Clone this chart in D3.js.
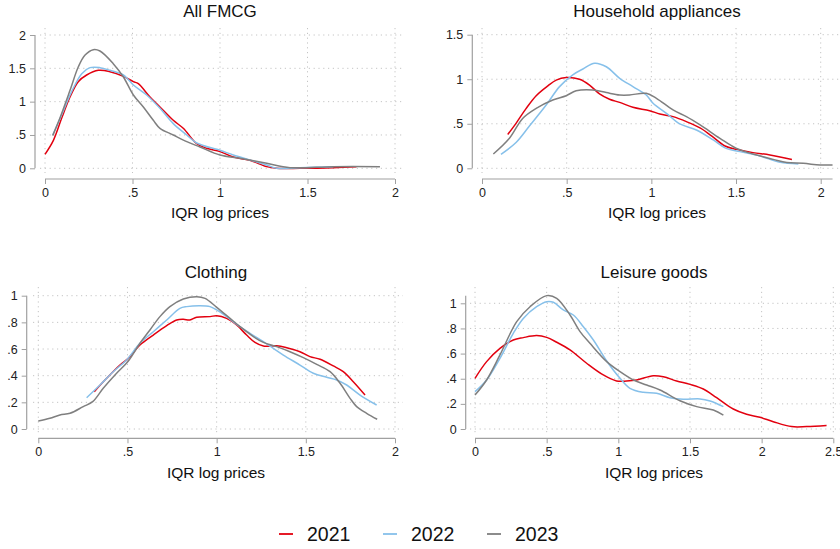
<!DOCTYPE html>
<html>
<head>
<meta charset="utf-8">
<script src="https://cdn.jsdelivr.net/npm/d3@7"></script>
<style>
  body { margin: 0; background: #fff; }
  svg { display: block; font-family: "Liberation Sans", Arial, sans-serif; }
  .tick text { font-size: 12.5px; fill: #222; }
  .tick line { stroke: #a0a0a0; }
  .axisline { stroke: #a0a0a0; stroke-width: 1.2; }
  .grid { stroke: #c4c4c4; stroke-width: 1; stroke-dasharray: 1.2,3.6; }
  .title { font-size: 17px; fill: #111; }
  .xlabel { font-size: 15.5px; fill: #111; }
  .legend { font-size: 19.5px; fill: #111; }
</style>
</head>
<body>
<svg id="chart" width="840" height="549"></svg>
<script>
// years and colours
var years = ["2021", "2022", "2023"];
var colors = ["#e2000f", "#86c0ea", "#7f7f7f"];

// tick labels
var xTicks2 = [0, 0.5, 1, 1.5, 2];
var xTicks25 = [0, 0.5, 1, 1.5, 2, 2.5];
var yTicksFmcg = [0, 0.5, 1, 1.5, 2];
var yTicksAppl = [0, 0.5, 1, 1.5];
var yTicksTenth = [0, 0.2, 0.4, 0.6, 0.8, 1];

// All FMCG
var fmcg2021 = [[0,.21],[.048,.42],[.095,.75],[.143,1.07],[.19,1.30],[.238,1.40],[.305,1.47],[.371,1.45],[.448,1.38],[.505,1.30],[.533,1.27],[.6,1.07],[.657,.92],[.733,.72],[.79,.60],[.867,.37],[.924,.30],[1.0,.25],[1.076,.17],[1.17,.12],[1.267,.025],[1.324,0],[1.457,0],[1.648,.01],[1.78,.025]];
var fmcg2022 = [[.044,.50],[.095,.80],[.152,1.15],[.21,1.42],[.257,1.51],[.314,1.51],[.371,1.47],[.448,1.40],[.505,1.25],[.581,1.10],[.657,.90],[.733,.67],[.81,.50],[.867,.38],[1.0,.27],[1.076,.20],[1.17,.125],[1.267,.05],[1.324,0],[1.457,.01],[1.648,.025]];
var fmcg2023 = [[.044,.49],[.086,.76],[.143,1.17],[.19,1.52],[.229,1.70],[.276,1.78],[.314,1.76],[.39,1.57],[.448,1.37],[.505,1.10],[.562,.92],[.619,.72],[.657,.60],[.733,.50],[.81,.40],[.886,.32],[1.0,.20],[1.114,.15],[1.267,.075],[1.4,.01],[1.648,.025],[1.914,.025]];

// Household appliances
var appl2021 = [[.152,.38],[.201,.505],[.26,.67],[.32,.815],[.389,.925],[.438,.99],[.497,1.02],[.576,1.0],[.635,.935],[.694,.835],[.753,.775],[.813,.74],[.891,.685],[.99,.647],[1.05,.61],[1.128,.58],[1.207,.524],[1.29,.45],[1.365,.35],[1.435,.25],[1.503,.213],[1.6,.176],[1.7,.15],[1.83,.10]];
var appl2022 = [[.112,.157],[.201,.29],[.28,.475],[.379,.71],[.458,.917],[.536,1.05],[.596,1.115],[.665,1.18],[.734,1.14],[.813,1.01],[.891,.917],[.97,.823],[1.01,.73],[1.089,.617],[1.168,.498],[1.266,.43],[1.365,.318],[1.435,.23],[1.523,.187],[1.641,.138],[1.76,.067],[1.868,.049]];
var appl2023 = [[.067,.16],[.162,.337],[.24,.56],[.32,.673],[.418,.767],[.497,.815],[.556,.87],[.655,.879],[.734,.85],[.813,.823],[.871,.823],[.97,.842],[1.03,.786],[1.128,.655],[1.207,.58],[1.288,.487],[1.405,.337],[1.5,.225],[1.6,.16],[1.72,.10],[1.8,.064],[1.897,.056],[1.996,.037],[2.07,.037]];

// Clothing
var cloth2021 = [[.314,.28],[.383,.38],[.458,.48],[.505,.53],[.57,.63],[.645,.705],[.72,.775],[.776,.818],[.813,.823],[.85,.818],[.888,.838],[.963,.843],[1.0,.85],[1.056,.83],[1.112,.78],[1.168,.705],[1.215,.65],[1.262,.623],[1.336,.625],[1.393,.61],[1.467,.58],[1.523,.543],[1.58,.523],[1.654,.473],[1.71,.43],[1.766,.355],[1.832,.255]];
var cloth2022 = [[.271,.235],[.346,.33],[.42,.43],[.495,.518],[.57,.643],[.645,.73],[.72,.818],[.794,.905],[.832,.918],[.907,.925],[.963,.918],[1.0,.893],[1.056,.843],[1.112,.785],[1.187,.718],[1.262,.655],[1.318,.605],[1.374,.555],[1.467,.48],[1.542,.418],[1.617,.388],[1.673,.368],[1.729,.33],[1.804,.255],[1.897,.18]];
var cloth2023 = [[0,.06],[.065,.08],[.121,.105],[.178,.118],[.252,.168],[.305,.205],[.364,.305],[.439,.418],[.505,.51],[.57,.643],[.626,.743],[.682,.843],[.738,.918],[.813,.975],[.888,.993],[.935,.98],[1.0,.913],[1.075,.83],[1.131,.768],[1.206,.693],[1.262,.65],[1.336,.618],[1.411,.58],[1.486,.535],[1.561,.485],[1.636,.43],[1.692,.343],[1.748,.23],[1.785,.168],[1.841,.118],[1.9,.073]];

// Leisure goods
var leis2021 = [[0,.403],[.081,.536],[.174,.642],[.267,.708],[.337,.727],[.43,.743],[.5,.729],[.57,.69],[.663,.629],[.779,.523],[.895,.43],[.988,.382],[1.058,.382],[1.128,.39],[1.244,.424],[1.314,.416],[1.407,.382],[1.5,.355],[1.593,.318],[1.686,.249],[1.802,.159],[1.895,.117],[1.988,.093],[2.081,.058],[2.209,.019],[2.314,.019],[2.453,.027]];
var leis2022 = [[0,.297],[.081,.39],[.174,.562],[.267,.761],[.337,.88],[.43,.973],[.5,1.013],[.547,1.008],[.616,.947],[.686,.907],[.756,.814],[.826,.708],[.919,.541],[1.012,.403],[1.081,.324],[1.174,.292],[1.267,.284],[1.36,.249],[1.453,.236],[1.57,.239],[1.64,.223],[1.733,.178]];
var leis2023 = [[0,.27],[.081,.39],[.174,.589],[.291,.854],[.384,.973],[.5,1.061],[.57,1.04],[.663,.907],[.733,.775],[.802,.682],[.919,.536],[1.012,.456],[1.105,.39],[1.198,.35],[1.291,.31],[1.43,.225],[1.547,.178],[1.663,.151],[1.733,.111]];

var titles = ["All FMCG", "Household appliances", "Clothing", "Leisure goods"];
var xLabel = "IQR log prices";

// panel layout (pixels)
var layout = [
  { x0: 45,   x1: 395,   yTop: 35,    yBot: 168.3, yAxisX: 35,    xAxisY: 179,   gx: [40, 403],  gy: [28, 173],  tx: 220, ty: 17,  lx: 220, ly: 218 },
  { x0: 482,  x1: 820.7, yTop: 34.7,  yBot: 168.3, yAxisX: 472.3, xAxisY: 179,   gx: [477, 845], gy: [28, 173],  tx: 657, ty: 17,  lx: 657, ly: 218 },
  { x0: 38.3, x1: 395,   yTop: 295.7, yBot: 429,   yAxisX: 26.7,  xAxisY: 438.3, gx: [33, 403],  gy: [287, 434], tx: 216, ty: 278, lx: 216, ly: 478 },
  { x0: 475,  x1: 833.3, yTop: 303.3, yBot: 429,   yAxisX: 465.7, xAxisY: 438.3, gx: [470, 845], gy: [287, 434], tx: 654, ty: 278, lx: 654, ly: 478 }
];

var panels = [
  { series: [fmcg2021, fmcg2022, fmcg2023],    xTicks: xTicks2,  yTicks: yTicksFmcg },
  { series: [appl2021, appl2022, appl2023],    xTicks: xTicks2,  yTicks: yTicksAppl },
  { series: [cloth2021, cloth2022, cloth2023], xTicks: xTicks2,  yTicks: yTicksTenth },
  { series: [leis2021, leis2022, leis2023],    xTicks: xTicks25, yTicks: yTicksTenth }
];

function fmt(d) {
  if (d === 0) return "0";
  var s = String(+d.toFixed(2));
  return s.replace(/^0\./, ".");
}

var svg = d3.select("#chart");

panels.forEach(function(p, i) {
  var L = layout[i];
  var xMax = d3.max(p.xTicks), yMax = d3.max(p.yTicks);

  var x = d3.scaleLinear().domain([0, xMax]).range([L.x0, L.x1]);
  // the pixel frame is fixed at ticks 0 and the top y tick
  var y = d3.scaleLinear().domain([0, yMax]).range([L.yBot, L.yTop]);

  var g = svg.append("g");

  // extents of axis lines: ticks plus data
  var allPts = d3.merge(p.series);
  var xExt = [Math.min(0, d3.min(allPts, function(d) { return d[0]; })), Math.max(xMax, d3.max(allPts, function(d) { return d[0]; }))];
  var yExt = [0, Math.max(yMax, d3.max(allPts, function(d) { return d[1]; }))];

  // grid
  g.selectAll(".hgrid").data(p.yTicks).enter().append("line")
    .attr("class", "grid")
    .attr("x1", L.gx[0]).attr("x2", L.gx[1])
    .attr("y1", function(d) { return y(d); }).attr("y2", function(d) { return y(d); });
  g.selectAll(".vgrid").data(p.xTicks).enter().append("line")
    .attr("class", "grid")
    .attr("y1", L.gy[0]).attr("y2", L.gy[1])
    .attr("x1", function(d) { return x(d); }).attr("x2", function(d) { return x(d); });

  // axes
  var xAxis = g.append("g")
    .attr("transform", "translate(0," + L.xAxisY + ")")
    .call(d3.axisBottom(x).tickValues(p.xTicks).tickFormat(fmt).tickSize(5).tickPadding(4).tickSizeOuter(0));
  xAxis.select(".domain").remove();
  xAxis.selectAll("text").attr("font-family", null).attr("font-size", null);
  g.append("line").attr("class", "axisline")
    .attr("x1", x(xExt[0])).attr("x2", Math.min(x(xExt[1]), 845))
    .attr("y1", L.xAxisY).attr("y2", L.xAxisY);

  var yAxis = g.append("g")
    .attr("transform", "translate(" + L.yAxisX + ",0)")
    .call(d3.axisLeft(y).tickValues(p.yTicks).tickFormat(fmt).tickSize(5).tickPadding(4).tickSizeOuter(0));
  yAxis.select(".domain").remove();
  yAxis.selectAll("text").attr("font-family", null).attr("font-size", null);
  g.append("line").attr("class", "axisline")
    .attr("x1", L.yAxisX).attr("x2", L.yAxisX)
    .attr("y1", y(yExt[0])).attr("y2", y(yExt[1]));

  // curves
  var line = d3.line()
    .x(function(d) { return x(d[0]); })
    .y(function(d) { return y(d[1]); })
    .curve(d3.curveCatmullRom.alpha(0.5));

  p.series.forEach(function(s, k) {
    g.append("path")
      .datum(s)
      .attr("fill", "none")
      .attr("stroke", colors[k])
      .attr("stroke-width", 1.5)
      .attr("stroke-linejoin", "round")
      .attr("d", line);
  });

  // titles
  g.append("text").attr("class", "title")
    .attr("x", L.tx).attr("y", L.ty).attr("text-anchor", "middle")
    .text(titles[i]);
  g.append("text").attr("class", "xlabel")
    .attr("x", L.lx).attr("y", L.ly).attr("text-anchor", "middle")
    .text(xLabel);
});

// legend
var legX = [279, 383, 487];
var leg = svg.append("g");
years.forEach(function(yr, k) {
  leg.append("line")
    .attr("x1", legX[k]).attr("x2", legX[k] + 14)
    .attr("y1", 534).attr("y2", 534)
    .attr("stroke", colors[k]).attr("stroke-width", 1.8);
  leg.append("text").attr("class", "legend")
    .attr("x", legX[k] + 28).attr("y", 541)
    .text(yr);
});
</script>
</body>
</html>
